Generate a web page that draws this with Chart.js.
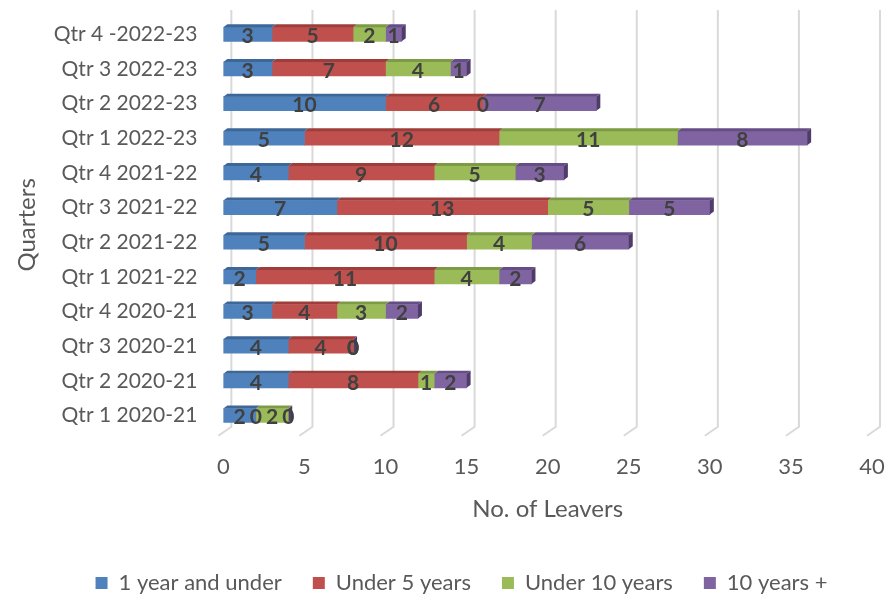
<!DOCTYPE html>
<html>
<head>
<meta charset="utf-8">
<script src="https://cdn.jsdelivr.net/npm/chart.js@4.4.0/dist/chart.umd.min.js"></script>
<style>
  html, body { margin: 0; padding: 0; background: #fff; }
  #wrap { width: 892px; height: 596px; }
</style>
</head>
<body>
<div id="wrap"><canvas id="c" width="892" height="596"></canvas></div>
<script>
const categories = [
  'Qtr 4 -2022-23', 'Qtr 3 2022-23', 'Qtr 2 2022-23', 'Qtr 1 2022-23',
  'Qtr 4 2021-22', 'Qtr 3 2021-22', 'Qtr 2 2021-22', 'Qtr 1 2021-22',
  'Qtr 4 2020-21', 'Qtr 3 2020-21', 'Qtr 2 2020-21', 'Qtr 1 2020-21'
];
const oneYearAndUnder = [3, 3, 10, 5, 4, 7, 5, 2, 3, 4, 4, 2];
const under5Years     = [5, 7, 6, 12, 9, 13, 10, 11, 4, 4, 8, 0];
const under10Years    = [2, 4, 0, 11, 5, 5, 4, 4, 3, 0, 1, 2];
const tenYearsPlus    = [1, 1, 7, 8, 3, 5, 6, 2, 2, 0, 2, 0];
const seriesNames = ['1 year and under', 'Under 5 years', 'Under 10 years', '10 years +'];
const xTicks = [0, 5, 10, 15, 20, 25, 30, 35, 40];

const FONT = 'Lato, "Open Sans", sans-serif';
const front = ['#4F81BD', '#C0504D', '#9BBB59', '#8064A2'];
const topC  = ['#3D6799', '#9E3D3A', '#7D9A44', '#654E85'];
const sideC = ['#2F5283', '#7F302E', '#637C35', '#4F3C6A'];
const DX = 4, DY = 3;
const LEGEND_SHIFT = 19;

function noOverhang(scale) {
  scale.paddingTop = 0; scale.paddingBottom = 0;
  scale.paddingLeft = 0; scale.paddingRight = 0;
}

const gridPlugin = {
  id: 'grid3d',
  afterLayout(chart) {
    if (chart.legend) { chart.legend.left += LEGEND_SHIFT; chart.legend.right += LEGEND_SHIFT; }
  },
  beforeDatasetsDraw(chart) {
    const ctx = chart.ctx, xs = chart.scales.x, ca = chart.chartArea;
    ctx.save();
    ctx.strokeStyle = '#D9D9D9';
    ctx.lineWidth = 2;
    xTicks.forEach(v => {
      const px = xs.getPixelForValue(v);
      ctx.beginPath();
      ctx.moveTo(px + 8, ca.top - 7);
      ctx.lineTo(px + 8, ca.bottom - 6);
      ctx.lineTo(px - 5, ca.bottom + 3);
      ctx.stroke();
    });
    ctx.restore();
  }
};

const facePlugin = {
  id: 'faces3d',
  afterDatasetDraw(chart, args) {
    const ctx = chart.ctx;
    const i = args.index;
    const last = chart.data.datasets.length - 1;
    const meta = args.meta;
    ctx.save();
    meta.data.forEach(el => {
      const p = el.getProps(['x', 'y', 'base', 'height'], true);
      const l = Math.min(p.base, p.x), r = Math.max(p.base, p.x);
      const t = p.y - p.height / 2, b = p.y + p.height / 2;
      ctx.fillStyle = topC[i];
      ctx.beginPath();
      ctx.moveTo(l, t);
      ctx.lineTo(r, t);
      ctx.lineTo(r + DX, t - DY);
      ctx.lineTo(l + DX, t - DY);
      ctx.closePath();
      ctx.fill();
      if (i === last) {
        ctx.fillStyle = sideC[i];
        ctx.beginPath();
        ctx.moveTo(r, t);
        ctx.lineTo(r + DX, t - DY);
        ctx.lineTo(r + DX, b - DY);
        ctx.lineTo(r, b);
        ctx.closePath();
        ctx.fill();
      }
    });
    ctx.restore();
  }
};

const labelPlugin = {
  id: 'barLabels',
  afterDatasetsDraw(chart) {
    const ctx = chart.ctx;
    ctx.save();
    ctx.font = 'bold 21px ' + FONT;
    ctx.fillStyle = '#404040';
    ctx.textAlign = 'center';
    ctx.textBaseline = 'middle';
    chart.data.datasets.forEach((ds, i) => {
      const meta = chart.getDatasetMeta(i);
      meta.data.forEach((el, j) => {
        const p = el.getProps(['x', 'y', 'base'], true);
        ctx.fillText(String(ds.data[j]), (p.x + p.base) / 2, p.y + 2);
      });
    });
    ctx.restore();
  }
};

const seriesData = [oneYearAndUnder, under5Years, under10Years, tenYearsPlus];

new Chart(document.getElementById('c'), {
  type: 'bar',
  data: {
    labels: categories,
    datasets: seriesData.map((d, i) => ({
      label: seriesNames[i],
      data: d,
      backgroundColor: front[i],
      borderWidth: 0,
      barThickness: 14
    }))
  },
  options: {
    indexAxis: 'y',
    responsive: false,
    animation: false,
    layout: { padding: { top: 17, right: 20, left: 13, bottom: -8 } },
    scales: {
      x: {
        stacked: true,
        min: 0, max: 40,
        afterBuildTicks(scale) { scale.ticks = xTicks.map(v => ({ value: v })); },
        afterFit: noOverhang,
        grid: { display: false, drawTicks: false },
        border: { display: false },
        ticks: { color: '#595959', font: { family: FONT, size: 22 }, padding: 21 },
        title: { display: true, text: 'No. of Leavers', color: '#595959',
                 font: { family: FONT, size: 24 }, padding: { top: -6, bottom: 17 } }
      },
      y: {
        stacked: true,
        afterFit: noOverhang,
        grid: { display: false, drawTicks: false },
        border: { display: false },
        ticks: { color: '#595959', font: { family: FONT, size: 21 }, padding: 26 },
        title: { display: true, text: 'Quarters', color: '#595959',
                 font: { family: FONT, size: 24 }, padding: { top: 0, bottom: -14 } }
      }
    },
    plugins: {
      legend: {
        position: 'bottom',
        labels: {
          color: '#595959',
          font: { family: FONT, size: 22 },
          boxWidth: 12, boxHeight: 12,
          padding: 31
        }
      },
      tooltip: { enabled: false }
    }
  },
  plugins: [gridPlugin, facePlugin, labelPlugin]
});
</script>
</body>
</html>
